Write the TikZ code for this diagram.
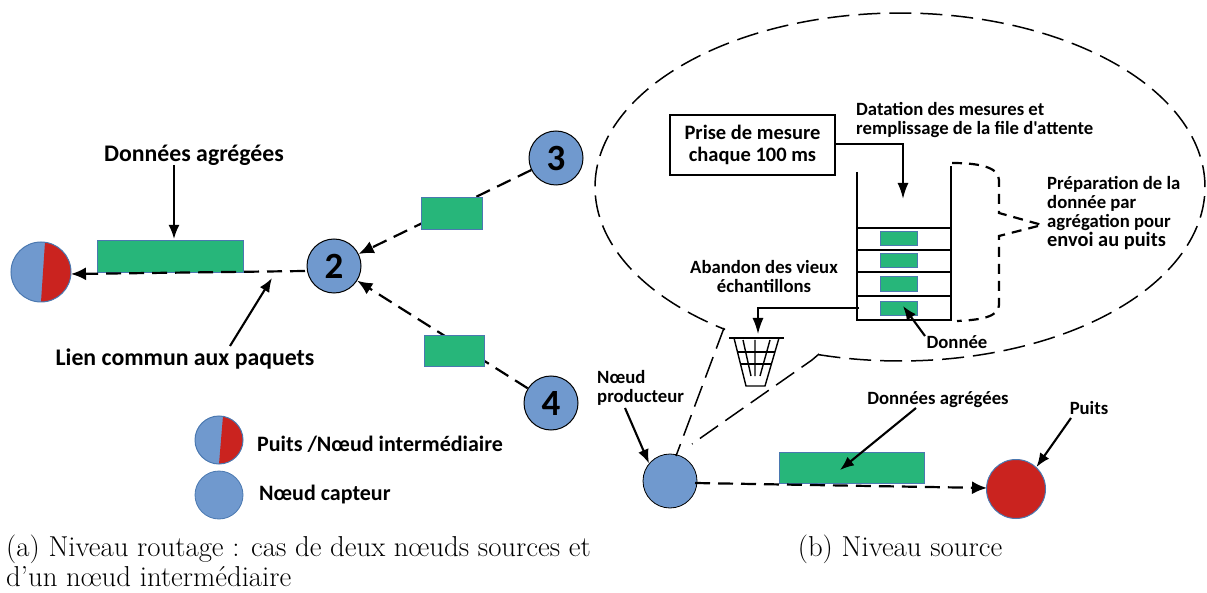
\documentclass[tikz,border=0pt]{standalone}
\usepackage{fontspec}
\newfontfamily\carl{Carlito}
\usetikzlibrary{arrows.meta,calc}
\definecolor{nodeblue}{HTML}{7099CE}
\definecolor{sinkred}{HTML}{CA231F}
\definecolor{pktgreen}{HTML}{27B67A}
\definecolor{pktedge}{HTML}{4A78B0}
\tikzset{
  x=1pt,y=-1pt,
  lbl/.style={font=\carl\bfseries\fontsize{18.7}{19}\selectfont,align=left,inner sep=0pt},
  lblmid/.style={font=\carl\bfseries\fontsize{22}{24}\selectfont,align=left,inner sep=0pt},
  lblbig/.style={font=\carl\bfseries\fontsize{23.8}{24}\selectfont,align=center,inner sep=0pt},
  capt/.style={font=\fontsize{28.8}{30}\selectfont,inner sep=0pt,anchor=west},
  num/.style={circle,draw=black,line width=1pt,fill=nodeblue,minimum size=54pt,inner sep=0pt,font=\carl\bfseries\fontsize{37}{37}\selectfont},
  plainc/.style={circle,draw=black,line width=.8pt,fill=nodeblue,inner sep=0pt},
  pie/.style={circle,draw=pktedge,line width=1pt,fill=nodeblue,inner sep=0pt,minimum size=#1,
    path picture={\fill[sinkred] ([xshift=4pt]path picture bounding box.north) -- (path picture bounding box.south) -- (path picture bounding box.south east) -- (path picture bounding box.north east) -- cycle;}},
  pkt/.style={draw=pktedge,line width=.8pt,fill=pktgreen,inner sep=0pt,anchor=north west},
  lnk/.style={line width=2.2pt,dash pattern=on 15pt off 8pt,-{Latex[length=15pt,width=13pt]}},
  arr/.style={line width=2.1pt,-{Latex[length=14pt,width=11pt]}},
  thinarr/.style={line width=1.5pt,-{Latex[length=16pt,width=11pt]}},
  bubble/.style={line width=1.5pt,dash pattern=on 22pt off 9pt},
  brace/.style={line width=2.2pt,dash pattern=on 10pt off 7pt},
  wall/.style={line width=2.3pt},
}
\begin{document}
\begin{tikzpicture}
\useasboundingbox (0,0) rectangle (1207,593);
% circles
\node[num] (n3) at (556,158) {3};
\node[num] (n2) at (334,266) {2};
\node[num] (n4) at (551,403) {4};
\node[pie=60pt] (root) at (41,272) {};
\node[pie=48pt] (legpie) at (219,440) {};
\node[circle,draw=pktedge,line width=.8pt,fill=nodeblue,minimum size=48pt,inner sep=0pt] (legcap) at (219,495) {};
\node[plainc,minimum size=54pt] (prod) at (670,481) {};
\node[circle,draw=pktedge,line width=1pt,fill=sinkred,minimum size=59pt,inner sep=0pt] (sink) at (1016,489) {};
% aggregated packets lie under their link
\node[pkt,minimum width=146pt,minimum height=32pt] (pa) at (97,240) {};
\node[pkt,minimum width=145pt,minimum height=31pt] (pb) at (779,452) {};
% links
\draw[lnk] (n3) -- (n2);
\draw[lnk] (n4) -- (n2);
\coordinate (l2) at (305,271);
\coordinate (lr) at (71,274);
\coordinate (lp) at (695,483);
\coordinate (ls) at (987,488);
\draw[lnk] (l2) -- (lr);
\draw[lnk] (lp) -- (ls);
% single packets cover their link
\node[pkt,minimum width=61pt,minimum height=32pt] (p3) at (421,197) {};
\node[pkt,minimum width=60pt,minimum height=31pt] (p4) at (424,335) {};
% callout
\draw[bubble] plot[domain=105.5:-235,samples=160,smooth] ({900+305*cos(\x)},{187+174*sin(\x)});
\coordinate (bubA) at (724,328);
\coordinate (bubB) at (819,354);
\coordinate (tipA) at (676,456);
\coordinate (tipB) at (692,444);
\draw[bubble] (bubA) -- (tipA);
\draw[bubble] (bubB) -- (812,360) -- (tipB);
% left labels
\node[lblbig] (tA) at (194,155) {Données agrégées};
\node[lblbig] (tB) at (185,359) {Lien commun aux paquets};
\coordinate (aA) at (174,165);
\coordinate (aAe) at (174,239);
\draw[arr] (aA) -- (aAe);
\coordinate (aB) at (230,346);
\coordinate (aBe) at (272,278);
\draw[arr] (aB) -- (aBe);
\node[lblmid,anchor=west] (lg1) at (257,444) {Puits /Nœud intermédiaire};
\node[lblmid,anchor=west] (lg2) at (259,495) {Nœud capteur};
% source box
\node[draw,line width=2.5pt,minimum width=165pt,minimum height=60pt,inner sep=0pt,align=center,font=\carl\bfseries\fontsize{20.5}{22}\selectfont] (box) at (752.5,145) {Prise de mesure\\chaque 100 ms};
\coordinate (qin) at (903,199);
\draw[thinarr,line width=2pt] (box.east|-0,144) -| (qin);
\node[lbl,anchor=west] (tD) at (856,120) {Datation des mesures et\\remplissage de la file d'attente};
% queue
\coordinate (qA) at (857,172);
\coordinate (qB) at (951,166);
\coordinate (qC) at (857,320);
\coordinate (qD) at (951,320);
\draw[wall] (qA) -- (qC) -- (qD) -- (qB);
\foreach \yy in {228,250,272,296}{\draw[wall] (857,\yy) -- (951,\yy);}
\foreach \yy/\hh [count=\i] in {231/14,253/14,276/15,301/14}{
  \node[pkt,minimum width=37pt,minimum height=\hh pt] (q\i) at (880,\yy) {};
}
% brace
\coordinate (brT) at (952,163);
\coordinate (brM) at (1042,225);
\coordinate (brB) at (957,321);
\draw[brace] (brT) .. controls (975,163) and (999,166) .. (999,180) -- (999,213) -- (brM) -- (999,236) -- (999,305) .. controls (999,317) and (980,320) .. (brB);
\node[lbl,anchor=north west] (tP) at (1047,176) {Préparation de la\\donnée par\\agrégation pour\\\fontsize{20.4}{20}\selectfont envoi au puits};
% discard
\node[lbl,align=center] (tE) at (764,277) {Abandon des vieux\\échantillons};
\coordinate (dS) at (859,308);
\coordinate (dE) at (758,334);
\draw[thinarr] (dS) -| (dE);
% basket
\coordinate (bL) at (729,338);
\coordinate (bR) at (784,338);
\draw[line width=2pt] (bL) -- (bR);
\draw[line width=1.4pt] (734,338) -- (746,386) -- (765,386) -- (779,338);
\draw[line width=1.4pt] (737,352) -- (775,352) (741,364) -- (771,364);
\draw[line width=1.4pt] (743,340) -- (751,376) (755,340) -- (755,376) (770,340) -- (760,376);
% donnée
\node[lbl] (tN) at (957,342) {Donnée};
\coordinate (nS) at (925,336);
\coordinate (nE) at (903,306);
\draw[arr] (nS) -- (nE);
% right labels
\node[lbl,anchor=west] (tPr) at (597,388) {Nœud\\producteur};
\coordinate (prS) at (625,408);
\draw[arr] (prS) -- (prod.140);
\node[lbl] (tG) at (938,400) {Données agrégées};
\coordinate (gS) at (916,408);
\coordinate (gE) at (840,470);
\draw[arr] (gS) -- (gE);
\node[lbl] (tS) at (1089,408) {Puits};
\coordinate (sS) at (1071,418);
\draw[arr] (sS) -- (sink.47);
% captions
\node[capt] (c1) at (6,549) {(a) Niveau routage : cas de deux nœuds sources et};
\node[capt] (c2) at (6,577) {d'un nœud intermédiaire};
\node[capt,anchor=center] (c3) at (900,549) {(b) Niveau source};
\end{tikzpicture}
\end{document}
